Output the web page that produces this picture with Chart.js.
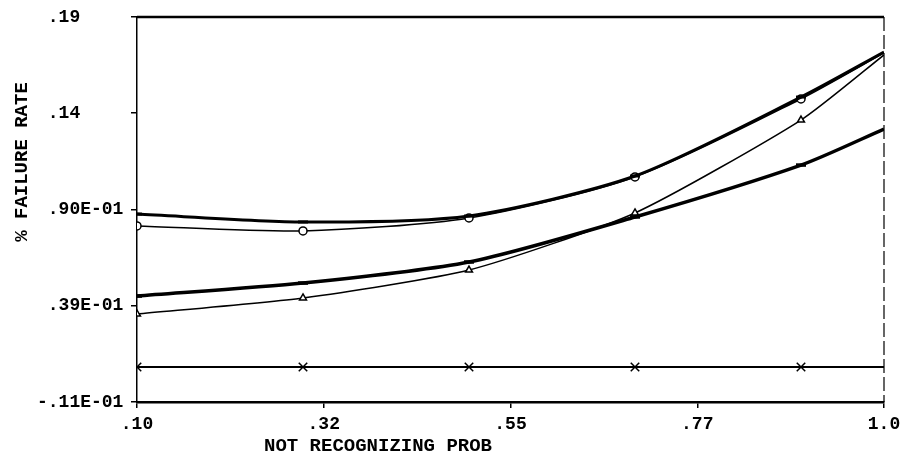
<!DOCTYPE html>
<html>
<head>
<meta charset="utf-8">
<script src="https://cdn.jsdelivr.net/npm/chart.js@4.4.0/dist/chart.umd.min.js"></script>
<style>
  html, body { margin: 0; padding: 0; background: #fff; }
  #wrap { width: 907px; height: 467px; }
</style>
</head>
<body>
<div id="wrap"><canvas id="chart"></canvas></div>
<script>
// data
const xValues = [0.1, 0.3, 0.5, 0.7, 0.9, 1.0];
const circleSeries = [0.0809, 0.0783, 0.0851, 0.1065, 0.1472, 0.1712];
const upperSeries = [0.0871, 0.0830, 0.0861, 0.1070, 0.1482, 0.1717];
const lowerSeries = [0.0443, 0.0511, 0.0621, 0.0856, 0.1127, 0.1315];
const triangleSeries = [0.0349, 0.0433, 0.0579, 0.0877, 0.1362, 0.1702];
const crossSeries = [0.0073, 0.0073, 0.0073, 0.0073, 0.0073, 0.0073];

// axis ticks
const xTickValues = [0.1, 0.325, 0.55, 0.775, 1.0];
const xTickLabels = ['.10', '.32', '.55', '.77', '1.0'];
const yTickValues = [-0.011, 0.03925, 0.0895, 0.13975, 0.19];
const yTickLabels = ['-.11E-01', ' .39E-01', ' .90E-01', ' .14', ' .19'];

const xTitle = 'NOT RECOGNIZING PROB';
const yTitle = '% FAILURE RATE';

const FONT = '"Liberation Mono", "DejaVu Sans Mono", monospace';

function toPoints(ys) {
  return xValues.map((x, i) => ({ x: x, y: ys[i] }));
}

// top/right frame and axis titles
const framePlugin = {
  id: 'frame',
  afterDraw(chart) {
    const { ctx, chartArea } = chart;
    ctx.save();
    ctx.strokeStyle = '#000';
    ctx.lineWidth = 2.5;
    ctx.beginPath();
    ctx.moveTo(chartArea.left, chartArea.top);
    ctx.lineTo(chartArea.right, chartArea.top);
    ctx.stroke();

    ctx.lineWidth = 1.2;
    ctx.setLineDash([14, 4]);
    ctx.beginPath();
    ctx.moveTo(chartArea.right, chartArea.top);
    ctx.lineTo(chartArea.right, chartArea.bottom);
    ctx.stroke();
    ctx.setLineDash([]);

    ctx.fillStyle = '#000';
    ctx.font = 'bold 19px ' + FONT;
    ctx.textAlign = 'center';
    ctx.textBaseline = 'middle';
    ctx.fillText(xTitle, 378, 446);

    ctx.translate(22, 162);
    ctx.rotate(-Math.PI / 2);
    ctx.fillText(yTitle, 0, 0);
    ctx.restore();
  }
};

const ctx = document.getElementById('chart').getContext('2d');
new Chart(ctx, {
  type: 'line',
  data: {
    datasets: [
      {
        data: toPoints(upperSeries),
        borderColor: '#000',
        borderWidth: 3,
        pointStyle: 'line',
        pointRadius: [5, 5, 5, 5, 5, 0],
        pointBorderColor: '#000',
        tension: 0.25
      },
      {
        data: toPoints(circleSeries),
        borderColor: '#000',
        borderWidth: 1.5,
        pointStyle: 'circle',
        pointRadius: [4, 4, 4, 4, 4, 0],
        pointBackgroundColor: '#fff',
        pointBorderColor: '#000',
        pointBorderWidth: 1.5,
        tension: 0.25
      },
      {
        data: toPoints(lowerSeries),
        borderColor: '#000',
        borderWidth: 3.5,
        pointStyle: 'line',
        pointRadius: [5, 5, 5, 5, 5, 0],
        pointBorderColor: '#000',
        tension: 0.25
      },
      {
        data: toPoints(triangleSeries),
        borderColor: '#000',
        borderWidth: 1.5,
        pointStyle: 'triangle',
        pointRadius: [4, 4, 4, 4, 4, 0],
        pointBackgroundColor: '#fff',
        pointBorderColor: '#000',
        pointBorderWidth: 1.5,
        tension: 0.2
      },
      {
        data: toPoints(crossSeries),
        borderColor: '#000',
        borderWidth: 2,
        pointStyle: 'crossRot',
        pointRadius: [6, 6, 6, 6, 6, 0],
        pointBorderColor: '#000',
        pointBorderWidth: 1.5,
        tension: 0
      }
    ]
  },
  options: {
    responsive: true,
    maintainAspectRatio: false,
    animation: false,
    layout: { padding: { left: 37, right: 23, top: 17, bottom: 0 } },
    plugins: {
      legend: { display: false },
      tooltip: { enabled: false }
    },
    scales: {
      x: {
        type: 'linear',
        min: 0.1,
        max: 1.0,
        afterBuildTicks: function(scale) {
          scale.ticks = xTickValues.map(v => ({ value: v }));
        },
        afterFit: function(scale) {
          scale.height = 65;
        },
        grid: { drawOnChartArea: false, drawTicks: true, tickLength: 6, color: '#000', lineWidth: 1.5 },
        border: { display: true, color: '#000', width: 2.5 },
        ticks: {
          color: '#000',
          font: { family: FONT, size: 18, weight: 'bold' },
          padding: 6,
          maxRotation: 0,
          autoSkip: false,
          callback: function(value, index) {
            return xTickLabels[index];
          }
        }
      },
      y: {
        type: 'linear',
        min: -0.011,
        max: 0.19,
        afterBuildTicks: function(scale) {
          scale.ticks = yTickValues.map(v => ({ value: v }));
        },
        afterFit: function(scale) {
          scale.width = 100;
        },
        grid: { drawOnChartArea: false, drawTicks: true, tickLength: 6, color: '#000', lineWidth: 1.5 },
        border: { display: true, color: '#000', width: 1.5 },
        ticks: {
          color: '#000',
          font: { family: FONT, size: 18, weight: 'bold' },
          crossAlign: 'far',
          autoSkip: false,
          callback: function(value, index) {
            return yTickLabels[index];
          }
        }
      }
    }
  },
  plugins: [framePlugin]
});
</script>
</body>
</html>
